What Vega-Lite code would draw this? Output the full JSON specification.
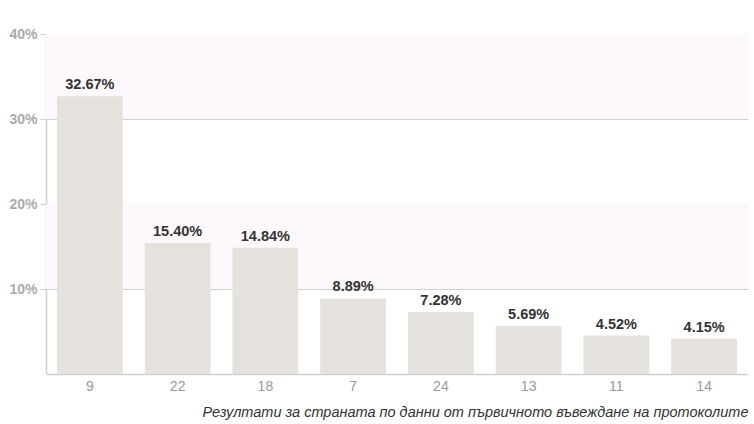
{
  "$schema": "https://vega.github.io/schema/vega-lite/v6.json",
  "width": 702,
  "height": 340,
  "autosize": {"type": "none"},
  "padding": {"left": 46, "top": 34, "right": 6, "bottom": 50},
  "background": "white",
  "config": {
    "view": {"stroke": null},
    "font": "Liberation Sans",
    "axisY": {
      "labelColor": "#aaa", "labelFontSize": 14, "labelFontWeight": "bold", "labelPadding": 3,
      "gridColor": "#d0d0d0", "gridWidth": 1.2,
      "tickColor": "#d0d0d0", "tickSize": 6,
      "domainColor": "#d0d0d0", "domainWidth": 1.5
    }
  },
  "layer": [
    {
      "data": {"values": [{"lo": 0.1, "hi": 0.2}, {"lo": 0.3, "hi": 0.4}]},
      "mark": {"type": "rect", "color": "#fdf8fc"},
      "encoding": {
        "y": {"field": "lo", "type": "quantitative", "scale": {"domain": [0, 0.4]},
              "axis": {"title": null, "values": [0.1, 0.2, 0.3, 0.4], "format": ".0%"}},
        "y2": {"field": "hi"}
      }
    },
    {
      "data": {"values": [
        {"party": "9", "share": 0.3267},
        {"party": "22", "share": 0.1540},
        {"party": "18", "share": 0.1484},
        {"party": "7", "share": 0.0889},
        {"party": "24", "share": 0.0728},
        {"party": "13", "share": 0.0569},
        {"party": "11", "share": 0.0452},
        {"party": "14", "share": 0.0415}
      ]},
      "encoding": {
        "x": {
          "field": "party", "type": "nominal", "sort": null,
          "scale": {"paddingInner": 0.25, "paddingOuter": 0.125},
          "axis": {
            "title": "Резултати за страната по данни от първичното въвеждане на протоколите",
            "titleAnchor": "end", "titleFontStyle": "italic", "titleFontWeight": "normal",
            "titleFontSize": 14.5, "titleColor": "#333", "titlePadding": 12,
            "labelAngle": 0, "labelColor": "#999", "labelFontSize": 14, "labelPadding": 5,
            "ticks": false, "domainColor": "#d0d0d0", "domainWidth": 1.5
          }
        },
        "y": {
          "field": "share", "type": "quantitative",
          "scale": {"domain": [0, 0.4]},
          "axis": {"title": null, "values": [0.1, 0.2, 0.3, 0.4], "format": ".0%"}
        }
      },
      "layer": [
        {"mark": {"type": "bar", "color": "#e5e2de"}},
        {
          "mark": {"type": "text", "baseline": "bottom", "dy": -4, "fontSize": 14.5, "fontWeight": "bold", "color": "#333"},
          "encoding": {"text": {"field": "share", "type": "quantitative", "format": ".2%"}}
        }
      ]
    }
  ]
}
